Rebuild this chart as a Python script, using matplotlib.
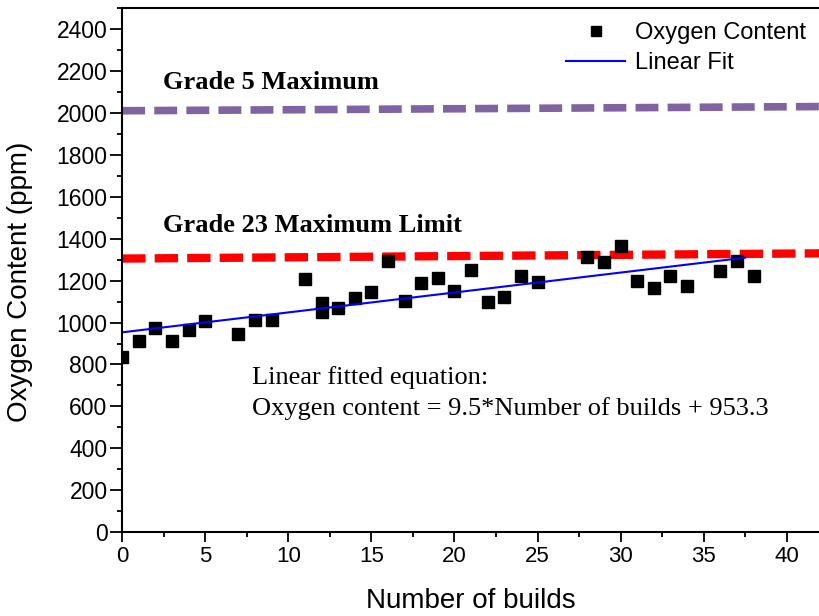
import matplotlib
matplotlib.use("Agg")
import matplotlib.pyplot as plt
from matplotlib.ticker import MultipleLocator
import numpy as np

builds = [0, 1, 2, 3, 4, 5, 7, 8, 9, 11, 12, 12, 13, 14, 15, 16, 17, 18, 19, 20,
          21, 22, 23, 24, 25, 28, 29, 30, 31, 32, 33, 34, 36, 37, 38]
oxygen = [838, 910, 975, 910, 965, 1006, 946, 1014, 1014, 1208, 1092, 1049, 1070,
          1116, 1144, 1292, 1101, 1187, 1211, 1152, 1251, 1097, 1121, 1224, 1192,
          1314, 1287, 1367, 1200, 1165, 1224, 1173, 1244, 1295, 1224]
fit_slope = 9.5
fit_intercept = 953.3
fit_x = [0, 37.5]
grade5_x = [0, 42]
grade5_y = [2010, 2030]
grade23_x = [0, 42]
grade23_y = [1305, 1330]

plt.rcParams['font.family'] = ['Liberation Sans', 'DejaVu Sans']
fig = plt.figure(figsize=(8.2, 6.16), dpi=100)
ax = fig.add_axes([0.149, 0.136, 0.851, 0.851])

ax.plot(grade5_x, grade5_y, color='#8064A2', lw=5.5, dashes=(3.0, 1.2), solid_capstyle='butt')
ax.plot(grade23_x, grade23_y, color='#FF0000', lw=6, dashes=(2.8, 1.1), solid_capstyle='butt')
ax.plot(builds, oxygen, 's', color='black', ms=8.5, label='Oxygen Content', clip_on=True)
fx = np.array(fit_x)
ax.plot(fx, fit_slope * fx + fit_intercept, color='#0000FF', lw=1.5, label='Linear Fit')

ax.set_xlim(0, 42)
ax.set_ylim(0, 2500)
ax.xaxis.set_major_locator(MultipleLocator(5))
ax.xaxis.set_minor_locator(MultipleLocator(2.5))
ax.yaxis.set_major_locator(MultipleLocator(200))
ax.yaxis.set_minor_locator(MultipleLocator(100))
ax.set_yticks(range(0, 2401, 200))
ax.tick_params(axis='y', which='major', direction='out', length=9, width=1.3, labelsize=16.5, pad=1.5)
ax.tick_params(axis='x', which='major', direction='out', length=7, width=1.3, labelsize=16, pad=3)
ax.tick_params(which='minor', direction='out', length=3.5, width=1.3)
for s in ['left', 'bottom', 'top']:
    ax.spines[s].set_linewidth(1.5)
ax.spines['right'].set_visible(False)

ax.set_xlabel('Number of builds', fontsize=20, labelpad=15)
ax.set_ylabel('Oxygen Content (ppm)', fontsize=20)
ax.yaxis.set_label_coords(-0.1275, 0.477)

serif = ['Liberation Serif', 'DejaVu Serif']
ax.text(2.45, 2143, 'Grade 5 Maximum', family=serif, fontsize=19, fontweight='bold', va='center')
ax.text(2.45, 1462, 'Grade 23 Maximum Limit', family=serif, fontsize=19, fontweight='bold', va='center')
ax.text(7.8, 738, 'Linear fitted equation:', family=serif, fontsize=19, va='center')
ax.text(7.8, 590, 'Oxygen content = 9.5*Number of builds + 953.3', family=serif, fontsize=19, va='center')

ax.legend(loc='upper right', frameon=False, fontsize=17, handlelength=2.5,
          borderaxespad=0.2, labelspacing=0.35, handletextpad=0.4, markerscale=0.8)

fig.savefig('out.png', dpi=100)
